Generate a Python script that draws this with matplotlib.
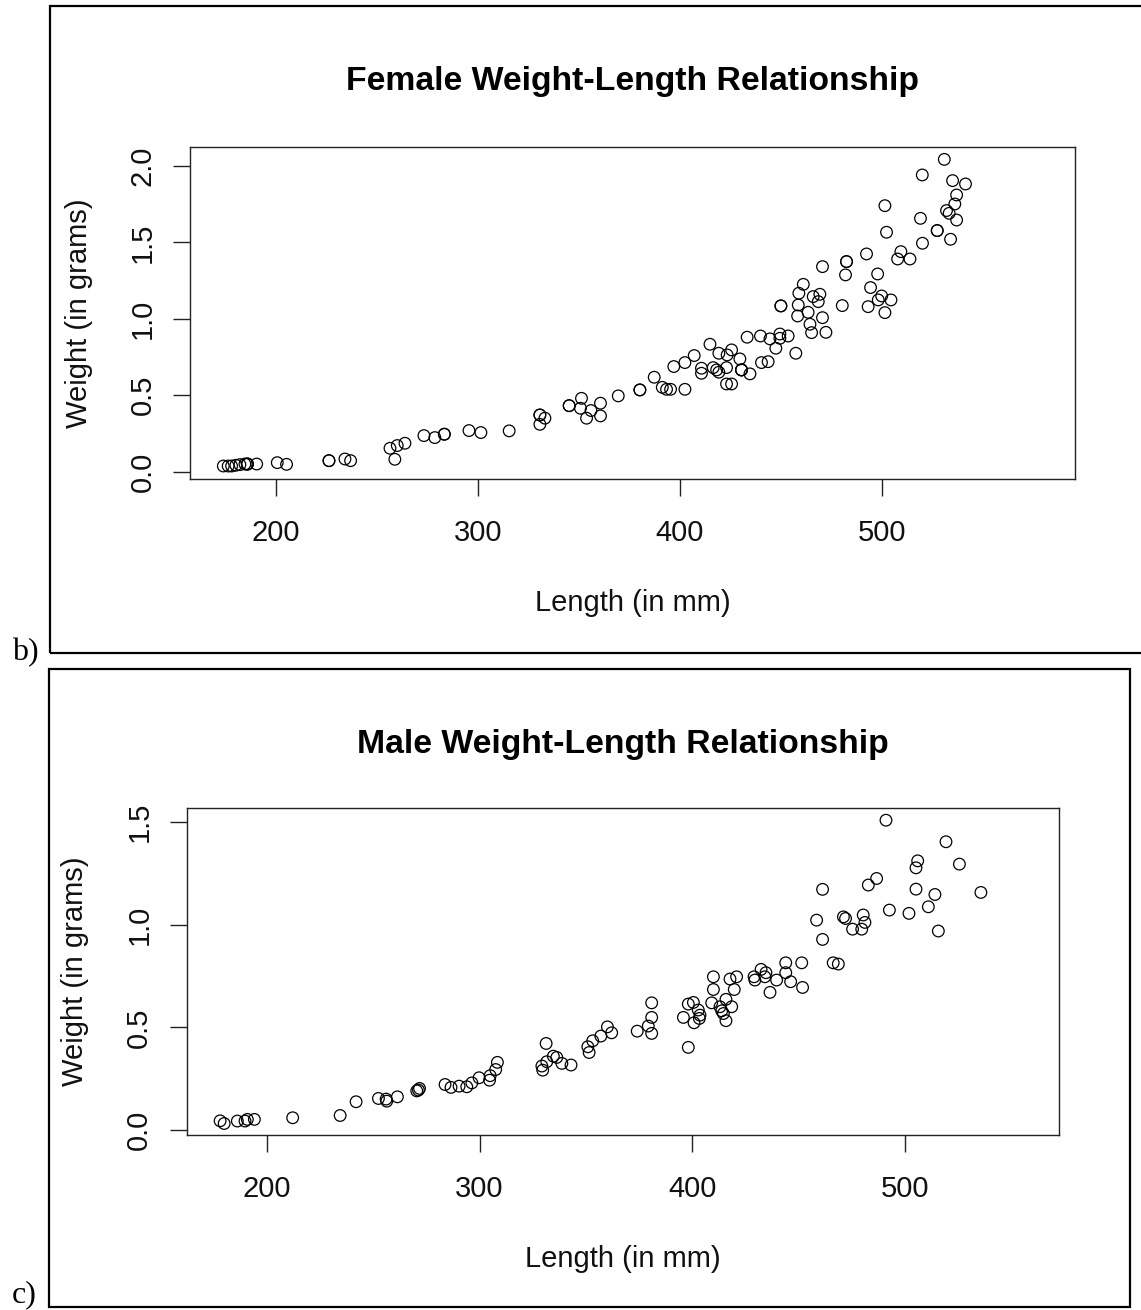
"""Weight-length scatter plots (female / male), R base-graphics look."""
import matplotlib

matplotlib.use("Agg")
import matplotlib.pyplot as plt  # noqa: E402
from matplotlib.patches import Rectangle  # noqa: E402

plt.rcParams["font.family"] = ["Liberation Sans", "DejaVu Sans"]

# ---- data ----
female_length = [
    174.1, 176.5, 178.2, 180.3, 182.3, 184.8, 186.0, 186.0, 186.0, 190.6,
    200.8, 205.4, 226.4, 226.4, 234.3, 237.1, 256.6, 259.0, 260.2, 264.0,
    273.4, 278.8, 283.5, 283.5, 295.7, 301.6, 315.6, 330.8, 330.8, 333.3,
    330.8, 345.3, 345.3, 351.4, 350.9, 353.9, 356.1, 360.8, 360.8, 369.6,
    380.3, 380.3, 387.4, 391.4, 393.5, 395.5, 402.6, 397.1, 402.6, 407.2,
    410.8, 410.8, 415.0, 416.6, 418.3, 419.4, 419.4, 423.2, 423.5, 425.7,
    423.2, 425.7, 429.8, 430.6, 430.6, 430.6, 434.8, 433.4, 440.0, 440.5,
    443.8, 444.7, 447.6, 449.6, 449.6, 453.7, 450.1, 450.1, 457.5, 458.7,
    459.0, 461.2, 458.4, 463.6, 464.5, 465.3, 466.1, 469.4, 468.6, 470.7,
    472.4, 470.7, 480.5, 482.6, 482.6, 482.1, 492.5, 498.0, 494.5, 493.3,
    500.0, 498.3, 501.6, 504.6, 501.6, 502.4, 507.9, 509.5, 514.0, 519.2,
    520.2, 520.1, 527.5, 527.5, 534.1, 531.0, 532.1, 533.4, 535.1, 541.5,
    537.1, 536.2, 537.1,
]
female_weight = [
    0.037, 0.037, 0.037, 0.042, 0.046, 0.050, 0.050, 0.050, 0.050, 0.050,
    0.059, 0.048, 0.072, 0.072, 0.083, 0.072, 0.153, 0.081, 0.171, 0.186,
    0.236, 0.223, 0.245, 0.245, 0.269, 0.256, 0.267, 0.371, 0.371, 0.350,
    0.310, 0.432, 0.432, 0.480, 0.415, 0.350, 0.400, 0.448, 0.365, 0.496,
    0.535, 0.535, 0.618, 0.552, 0.539, 0.539, 0.539, 0.688, 0.714, 0.760,
    0.677, 0.644, 0.834, 0.681, 0.666, 0.651, 0.775, 0.681, 0.764, 0.797,
    0.574, 0.574, 0.738, 0.666, 0.666, 0.666, 0.640, 0.880, 0.888, 0.714,
    0.720, 0.869, 0.808, 0.901, 0.873, 0.888, 1.085, 1.085, 0.775, 1.091,
    1.168, 1.226, 1.019, 1.043, 0.965, 0.910, 1.146, 1.161, 1.113, 1.008,
    0.912, 1.342, 1.087, 1.375, 1.375, 1.288, 1.425, 1.294, 1.205, 1.080,
    1.150, 1.124, 1.041, 1.124, 1.741, 1.567, 1.392, 1.440, 1.392, 1.658,
    1.495, 1.942, 1.578, 1.578, 1.521, 2.044, 1.709, 1.691, 1.905, 1.883,
    1.811, 1.752, 1.647,
]

male_length = [
    178.1, 180.0, 186.2, 189.8, 190.9, 194.2, 212.2, 234.5, 242.0, 252.5,
    256.1, 256.4, 261.4, 270.5, 271.8, 271.3, 283.8, 286.6, 290.4, 294.0,
    296.4, 299.8, 304.7, 305.0, 307.6, 308.4, 329.3, 329.7, 331.3, 331.6,
    334.7, 336.3, 338.7, 343.0, 350.9, 351.5, 353.2, 357.0, 360.1, 362.1,
    374.1, 379.3, 380.9, 380.9, 380.9, 395.8, 398.1, 398.1, 400.5, 400.8,
    402.8, 403.6, 403.3, 409.1, 409.9, 409.9, 413.0, 413.8, 414.6, 415.8,
    415.8, 418.5, 417.7, 420.8, 419.7, 429.0, 429.4, 432.3, 434.6, 434.1,
    436.5, 439.6, 443.9, 443.9, 446.2, 451.4, 451.8, 458.4, 461.2, 461.2,
    466.2, 468.6, 471.0, 472.0, 475.3, 480.3, 479.6, 481.1, 482.7, 486.6,
    491.0, 492.6, 501.8, 505.1, 505.1, 505.9, 510.9, 514.0, 515.6, 519.2,
    525.5, 535.6,
]
male_weight = [
    0.045, 0.032, 0.044, 0.044, 0.052, 0.052, 0.060, 0.071, 0.138, 0.154,
    0.151, 0.141, 0.162, 0.191, 0.203, 0.195, 0.222, 0.208, 0.214, 0.211,
    0.230, 0.255, 0.243, 0.265, 0.295, 0.330, 0.312, 0.292, 0.422, 0.333,
    0.360, 0.354, 0.325, 0.317, 0.406, 0.378, 0.435, 0.458, 0.503, 0.474,
    0.482, 0.507, 0.471, 0.549, 0.620, 0.549, 0.403, 0.614, 0.622, 0.523,
    0.585, 0.560, 0.544, 0.620, 0.685, 0.747, 0.601, 0.581, 0.568, 0.533,
    0.637, 0.601, 0.736, 0.747, 0.685, 0.747, 0.731, 0.783, 0.767, 0.747,
    0.671, 0.731, 0.815, 0.767, 0.723, 0.815, 0.695, 1.023, 1.173, 0.929,
    0.815, 0.809, 1.039, 1.031, 0.979, 1.048, 0.979, 1.012, 1.194, 1.226,
    1.510, 1.072, 1.056, 1.174, 1.278, 1.312, 1.088, 1.148, 0.970, 1.405,
    1.296, 1.158,
]

x_ticks = [200, 300, 400, 500]
female_y_ticks = [0.0, 0.5, 1.0, 1.5, 2.0]
male_y_ticks = [0.0, 0.5, 1.0, 1.5]

W, H = 1141, 1310
fig = plt.figure(figsize=(W / 100, H / 100), dpi=100)


def px_rect(left, top, right, bottom):
    """pixel box (from top-left) -> figure fraction [l, b, w, h]"""
    return [left / W, 1 - bottom / H, (right - left) / W, (bottom - top) / H]


def frame(left, top, right, bottom):
    l, b, w, h = px_rect(left, top, right, bottom)
    fig.add_artist(Rectangle((l, b), w, h, transform=fig.transFigure,
                             fill=False, lw=1.6, ec="black", clip_on=False))


def panel(rect, x, y, title, yticks, xlim, ylim, title_pad):
    ax = fig.add_axes(px_rect(*rect))
    ax.scatter(x, y, s=70, facecolors="none", edgecolors="black", linewidths=0.9)
    ax.set_xlim(*xlim)
    ax.set_ylim(*ylim)
    ax.set_xticks(x_ticks)
    ax.set_yticks(yticks)
    ax.set_yticklabels([f"{t:.1f}" for t in yticks], rotation=90, va="center")
    ax.tick_params(axis="both", direction="out", length=12, width=1.0,
                   labelsize=21, color="#222222", labelcolor="#111111")
    ax.tick_params(axis="x", pad=17)
    ax.tick_params(axis="y", pad=12)
    for s in ax.spines.values():
        s.set_linewidth(1.0)
        s.set_color("#222222")
    ax.set_xlabel("Length (in mm)", fontsize=21, labelpad=30, color="#111111")
    ax.set_ylabel("Weight (in grams)", fontsize=21, labelpad=26, color="#111111")
    ax.set_title(title, fontsize=24.3, fontweight="bold", pad=title_pad)
    return ax


frame(50, 6, 1146, 653)
frame(49, 669, 1130, 1307)

panel((190, 147, 1075, 479), female_length, female_weight,
      "Female Weight-Length Relationship", female_y_ticks,
      (157.6, 595.7), (-0.048, 2.125), 41)
panel((186.7, 808.3, 1059, 1135), male_length, male_weight,
      "Male Weight-Length Relationship", male_y_ticks,
      (162.4, 572.3), (-0.024, 1.568), 40)

fig.text(12 / W, 1 - 660 / H, "b)", fontsize=23, family="Liberation Serif",
         va="baseline", ha="left")
fig.text(12 / W, 1 - 1302 / H, "c)", fontsize=23, family="Liberation Serif",
         va="baseline", ha="left")

fig.savefig("out.png", dpi=100)
